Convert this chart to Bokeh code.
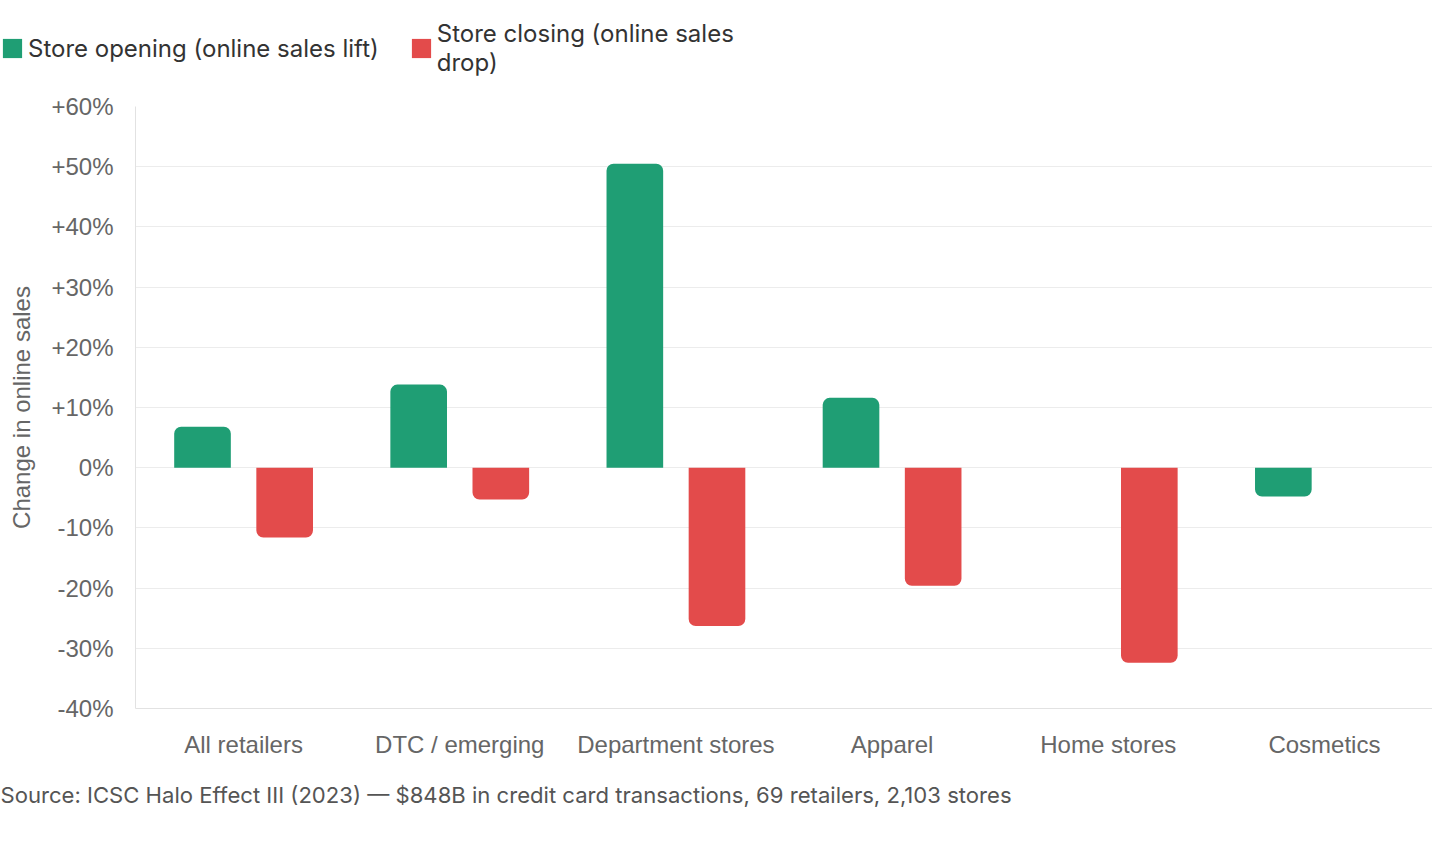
from bokeh.plotting import figure
from bokeh.layouts import column
from bokeh.models import (ColumnDataSource, FactorRange, FixedTicker, Legend, LegendItem,
                          Title, Range1d)
from bokeh.transform import dodge
from bokeh.embed import file_html
from bokeh.resources import INLINE

categories = ["All retailers", "DTC / emerging", "Department stores", "Apparel", "Home stores", "Cosmetics"]
opening = [6.8, 13.8, 50.5, 11.6, None, -4.8]
closing = [-11.6, -5.3, -26.3, -19.6, -32.4, None]
series_names = ["Store opening (online sales lift)", "Store closing (online sales\ndrop)"]
tick_values = [-40, -30, -20, -10, 0, 10, 20, 30, 40, 50, 60]
tick_labels = ["-40%", "-30%", "-20%", "-10%", "0%", "+10%", "+20%", "+30%", "+40%", "+50%", "+60%"]
y_title = "Change in online sales"
source_note = "Source: ICSC Halo Effect III (2023) \u2014 $848B in credit card transactions, 69 retailers, 2,103 stores"

GREEN = "#1f9e74"
RED = "#e34b4b"
TICK_FONT = "Liberation Sans"
UI_FONT = "Inter"

FRAME_LEFT = 135
FRAME_W = 1297
FRAME_H = 602
LEGEND_H = 90


def split(vals, positive):
    cats, tops, bots = [], [], []
    for c, v in zip(categories, vals):
        if v is None:
            continue
        if positive and v > 0:
            cats.append(c); tops.append(v); bots.append(0)
        elif not positive and v < 0:
            cats.append(c); tops.append(0); bots.append(v)
    return ColumnDataSource(dict(cat=cats, top=tops, bottom=bots))


# ---- legend strip ----
lf = figure(width=FRAME_LEFT + FRAME_W, height=LEGEND_H, x_range=Range1d(0, 1), y_range=Range1d(0, 1),
            x_axis_type=None, y_axis_type=None, output_backend="svg", toolbar_location=None,
            min_border=0, frame_align=False)
lf.outline_line_color = None
lf.grid.visible = False
# swatch renderers kept outside the visible range; only their legend glyphs show
lg1 = lf.vbar(x=[5], top=[5], bottom=[4], width=0.1, fill_color=GREEN, line_color=None, border_radius=4)
lg2 = lf.vbar(x=[5], top=[5], bottom=[4], width=0.1, fill_color=RED, line_color=None, border_radius=4)
legend = Legend(items=[LegendItem(label=series_names[0], renderers=[lg1]),
                       LegendItem(label=series_names[1], renderers=[lg2])],
                orientation="horizontal", location=(0, 13),
                label_text_font=UI_FONT, label_text_font_size="24px", label_text_color="#333333",
                glyph_width=24, glyph_height=24, label_standoff=4, spacing=30,
                padding=0, margin=0, border_line_color=None, background_fill_alpha=0,
                label_height=29)
lf.add_layout(legend, "center")

# ---- main chart ----
p = figure(frame_width=FRAME_W, frame_height=FRAME_H,
           x_range=FactorRange(factors=categories, range_padding=0),
           y_range=Range1d(-40, 60), output_backend="svg", toolbar_location=None,
           min_border_left=FRAME_LEFT, min_border_right=0, min_border_top=106 - LEGEND_H,
           min_border_bottom=20, frame_align=False)
p.outline_line_color = None
p.background_fill_color = "white"
p.border_fill_color = "white"

OFF = 0.19
W = 0.262
R = 7

g_pos = p.vbar(x=dodge("cat", -OFF, range=p.x_range), top="top", bottom="bottom", width=W,
               source=split(opening, True), fill_color=GREEN, line_color=None,
               border_radius=(R, R, 0, 0))
g_neg = p.vbar(x=dodge("cat", -OFF, range=p.x_range), top="top", bottom="bottom", width=W,
               source=split(opening, False), fill_color=GREEN, line_color=None,
               border_radius=(0, 0, R, R))
r_neg = p.vbar(x=dodge("cat", OFF, range=p.x_range), top="top", bottom="bottom", width=W,
               source=split(closing, False), fill_color=RED, line_color=None,
               border_radius=(0, 0, R, R))

p.yaxis.ticker = FixedTicker(ticks=tick_values)
p.yaxis.major_label_overrides = {v: l for v, l in zip(tick_values, tick_labels)}
p.yaxis.axis_label = y_title
for ax in (p.xaxis[0], p.yaxis[0]):
    ax.axis_line_color = "#e2e2e2"
    ax.axis_line_width = 1
    ax.major_tick_line_color = None
    ax.minor_tick_line_color = None
    ax.major_label_text_font = TICK_FONT
    ax.major_label_text_font_size = "24px"
    ax.major_label_text_color = "#666666"
p.yaxis.major_label_standoff = 16
p.xaxis.major_label_standoff = 16
p.yaxis.axis_label_text_font = TICK_FONT
p.yaxis.axis_label_text_font_size = "24px"
p.yaxis.axis_label_text_font_style = "normal"
p.yaxis.axis_label_text_color = "#666666"
p.yaxis.axis_label_standoff = 13

p.xgrid.grid_line_color = None
p.ygrid.grid_line_color = "#ececec"
p.ygrid.grid_line_width = 1

note = Title(text=source_note, align="left", text_font=UI_FONT, text_font_size="22.1px",
             text_color="#555555", text_font_style="normal", offset=-FRAME_LEFT, standoff=39)
p.add_layout(note, "below")

layout = column(lf, p, spacing=0)
open("out.html", "w").write(file_html(layout, INLINE))
